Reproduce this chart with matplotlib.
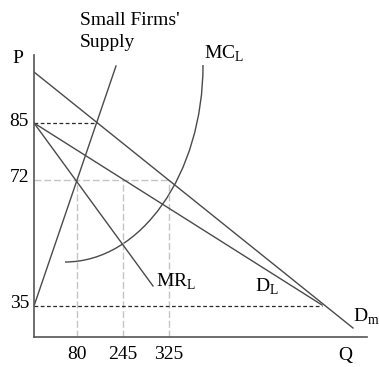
import numpy as np
import matplotlib
matplotlib.use("Agg")
import matplotlib.pyplot as plt
from matplotlib.path import Path
from matplotlib.patches import PathPatch

plt.rcParams["font.family"] = ["Liberation Serif", "DejaVu Serif"]
plt.rcParams["mathtext.fontset"] = "custom"
plt.rcParams["mathtext.rm"] = "Liberation Serif"

# schematic diagram units (not to scale)
dm_q = [0, 319]
dm_p = [265, 9]
dl_q = [0, 288]
dl_p = [214, 32]
mr_q = [0, 119]
mr_p = [214, 51]
supply_q = [0, 82]
supply_p = [31, 271]
# MC_L drawn as a cubic bezier: start, two control points, end
mc_q = [31, 107, 169, 169]
mc_p = [75, 75, 163, 272]
p72_level = 157

price_labels = ["85", "72", "35"]
quantity_labels = ["80", "245", "325"]

line_col = "#4a4a4a"
dark_dash = "#2a2a2a"
light_dash = "#c4c4c4"

fig = plt.figure(figsize=(3.79, 3.67), dpi=100)
ax = fig.add_axes([34 / 379, 30 / 367, 333 / 379, 282 / 367])
ax.set_xlim(0, 333)
ax.set_ylim(0, 282)

# guide levels derived from the curves
p85 = dl_p[0]
p35 = supply_p[0]
p72 = p72_level
q_sup72 = np.interp(p72, supply_p, supply_q)
q_dm72 = np.interp(p72, dm_p[::-1], dm_q[::-1])
t = np.linspace(0, 1, 400)
bq = ((1 - t) ** 3 * mc_q[0] + 3 * (1 - t) ** 2 * t * mc_q[1]
      + 3 * (1 - t) * t ** 2 * mc_q[2] + t ** 3 * mc_q[3])
bp = ((1 - t) ** 3 * mc_p[0] + 3 * (1 - t) ** 2 * t * mc_p[1]
      + 3 * (1 - t) * t ** 2 * mc_p[2] + t ** 3 * mc_p[3])
gap = bp - np.interp(bq, mr_q, mr_p)
q_mrmc = bq[np.argmin(np.abs(gap))]
q_guides = [q_sup72, q_mrmc, q_dm72]
p_guides = [p85, p72, p35]

# light guides for 72 and the quantities
ax.plot([0, q_dm72], [p72, p72], color=light_dash, lw=1.0, ls=(0, (5, 2)))
for q in q_guides:
    ax.plot([q, q], [0, p72], color=light_dash, lw=1.0, ls=(0, (5, 2)))
# dark dashed guides
q_sup85 = np.interp(p85, supply_p, supply_q)
ax.plot([0, q_sup85], [p85, p85], color=dark_dash, lw=0.9, ls=(0, (3, 2)))
ax.plot([0, dl_q[1]], [p35, p35], color=dark_dash, lw=0.9, ls=(0, (3, 2)))

# curves
ax.plot(dm_q, dm_p, color=line_col, lw=1.0)
ax.plot(dl_q, dl_p, color=line_col, lw=1.0)
ax.plot(mr_q, mr_p, color=line_col, lw=1.0)
ax.plot(supply_q, supply_p, color=line_col, lw=1.0)
mc_path = Path(list(zip(mc_q, mc_p)),
               [Path.MOVETO, Path.CURVE4, Path.CURVE4, Path.CURVE4])
ax.add_patch(PathPatch(mc_path, facecolor="none", edgecolor=line_col, lw=1.0))

# axes
for s in ["top", "right"]:
    ax.spines[s].set_visible(False)
for s in ["left", "bottom"]:
    ax.spines[s].set_color("#555555")
    ax.spines[s].set_linewidth(1.2)
ax.set_xticks([])
ax.set_yticks([])

fs = 14
for lab, p in zip(price_labels, p_guides):
    ax.text(-5, p + 2, lab, ha="right", va="center", fontsize=fs)
for lab, q in zip(quantity_labels, q_guides):
    ax.text(q, -9, lab, ha="center", va="top", fontsize=fs)

ax.text(-22, 274, "P", fontsize=fs, va="baseline", clip_on=False)
ax.text(304, -23, "Q", fontsize=fs, va="baseline", clip_on=False)
ax.text(46, 312, "Small Firms'", fontsize=fs, va="baseline", clip_on=False)
ax.text(46, 290, "Supply", fontsize=fs, va="baseline", clip_on=False)
ax.text(170, 278, r"MC$_\mathregular{L}$", fontsize=fs, va="baseline", clip_on=False)
ax.text(122, 50, r"MR$_\mathregular{L}$", fontsize=fs, va="baseline", clip_on=False)
ax.text(221, 45, r"D$_\mathregular{L}$", fontsize=fs, va="baseline", clip_on=False)
ax.text(319, 15, r"D$_\mathregular{m}$", fontsize=fs, va="baseline", clip_on=False)

fig.savefig("out.png", dpi=100)
